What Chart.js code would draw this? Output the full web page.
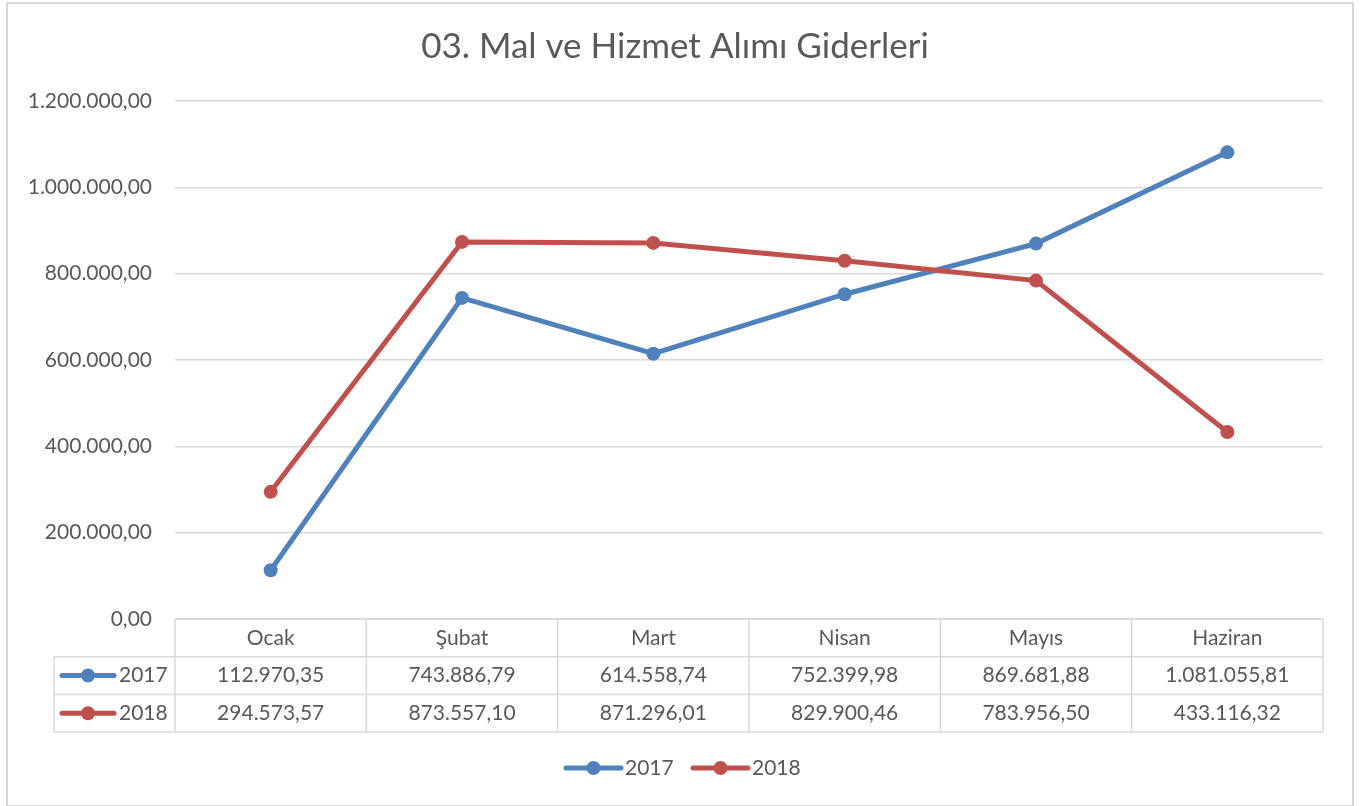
<!DOCTYPE html>
<html>
<head>
<meta charset="utf-8">
<script src="https://cdn.jsdelivr.net/npm/chart.js@4/dist/chart.umd.min.js"></script>
<style>
    html, body { margin: 0; padding: 0; background: #fff; }
    #wrap { position: relative; width: 1367px; height: 806px; }
    #frame {
        position: absolute; left: 6px; top: 2px; width: 1348px; height: 805px;
        box-sizing: border-box; border: 2px solid #d9d9d9; pointer-events: none;
    }
    canvas { position: absolute; left: 0; top: 0; }
</style>
</head>
<body>
<div id="wrap">
    <canvas id="chart" width="1367" height="806"></canvas>
    <div id="frame"></div>
</div>
<script>
const TITLE = '03. Mal ve Hizmet Alımı Giderleri';
const months = ['Ocak', 'Şubat', 'Mart', 'Nisan', 'Mayıs', 'Haziran'];
const seriesNames = ['2017', '2018'];
const values2017 = [112970.35, 743886.79, 614558.74, 752399.98, 869681.88, 1081055.81];
const values2018 = [294573.57, 873557.10, 871296.01, 829900.46, 783956.50, 433116.32];
const yTicks = [0, 200000, 400000, 600000, 800000, 1000000, 1200000];

const BLUE = '#4f81bd';
const RED = '#c0504d';
const TEXT = '#595959';
const GRID = '#d9d9d9';
const FONT = 'Lato, "Open Sans", sans-serif';

// Turkish number format: 1.234.567,89
function fmt(n) {
    const parts = n.toFixed(2).split('.');
    const intPart = parts[0].replace(/\B(?=(\d{3})+(?!\d))/g, '.');
    return intPart + ',' + parts[1];
}

// sample line + dot, like the legend keys
function drawKey(ctx, x1, x2, y, color) {
    ctx.save();
    ctx.strokeStyle = color;
    ctx.fillStyle = color;
    ctx.lineWidth = 5;
    ctx.lineCap = 'round';
    ctx.beginPath();
    ctx.moveTo(x1, y);
    ctx.lineTo(x2, y);
    ctx.stroke();
    ctx.beginPath();
    ctx.arc((x1 + x2) / 2, y, 7, 0, Math.PI * 2);
    ctx.fill();
    ctx.restore();
}

const dataTablePlugin = {
    id: 'dataTable',
    afterDraw(chart) {
        const ctx = chart.ctx;
        const xs = chart.scales.x;
        const area = chart.chartArea;
        const rowH = 37.7;
        const top = area.bottom;
        const labelLeft = 54;
        const colW = (area.right - area.left) / months.length;
        const rows = [values2017, values2018];
        const colors = [BLUE, RED];

        ctx.save();
        ctx.strokeStyle = GRID;
        ctx.lineWidth = 1.5;

        // horizontal lines
        ctx.beginPath();
        ctx.moveTo(area.left, top);
        ctx.lineTo(area.right, top);
        for (let r = 1; r <= rows.length + 1; r++) {
            const y = top + r * rowH;
            ctx.moveTo(labelLeft, y);
            ctx.lineTo(area.right, y);
        }
        // vertical lines
        for (let c = 0; c <= months.length; c++) {
            const x = area.left + c * colW;
            ctx.moveTo(x, top);
            ctx.lineTo(x, top + (rows.length + 1) * rowH);
        }
        ctx.moveTo(labelLeft, top + rowH);
        ctx.lineTo(labelLeft, top + (rows.length + 1) * rowH);
        ctx.stroke();

        ctx.fillStyle = TEXT;
        ctx.font = '21px ' + FONT;
        ctx.textAlign = 'center';
        ctx.textBaseline = 'middle';
        months.forEach((m, i) => {
            const cx = xs.getPixelForValue(i);
            ctx.fillText(m, cx, top + rowH / 2);
            rows.forEach((vals, r) => {
                ctx.fillText(fmt(vals[i]), cx, top + (r + 1.5) * rowH);
            });
        });

        rows.forEach((vals, r) => {
            const y = top + (r + 1.5) * rowH;
            drawKey(ctx, 62, 114, y, colors[r]);
            ctx.fillStyle = TEXT;
            ctx.textAlign = 'left';
            ctx.fillText(seriesNames[r], 119, y);
        });

        // bottom legend
        const ly = 768;
        const items = [[566, BLUE], [693, RED]];
        items.forEach(([x, color], r) => {
            drawKey(ctx, x, x + 55, ly, color);
            ctx.fillStyle = TEXT;
            ctx.textAlign = 'left';
            ctx.fillText(seriesNames[r], x + 59, ly);
        });
        ctx.restore();
    }
};

new Chart(document.getElementById('chart'), {
    type: 'line',
    data: {
        labels: months,
        datasets: [
            {
                label: seriesNames[0],
                data: values2017,
                borderColor: BLUE,
                backgroundColor: BLUE,
                borderWidth: 5,
                pointRadius: 7,
                pointBorderWidth: 0,
                tension: 0,
                order: 1
            },
            {
                label: seriesNames[1],
                data: values2018,
                borderColor: RED,
                backgroundColor: RED,
                borderWidth: 5,
                pointRadius: 7,
                pointBorderWidth: 0,
                tension: 0,
                order: 0
            }
        ]
    },
    options: {
        responsive: false,
        animation: false,
        layout: { padding: { left: 0, right: 17, top: 0, bottom: 74 } },
        scales: {
            x: {
                offset: true,
                grid: { display: false },
                border: { display: false },
                ticks: { display: false },
                afterFit(scale) { scale.height = 113; }
            },
            y: {
                min: 0,
                max: 1200000,
                afterBuildTicks(scale) {
                    scale.ticks = yTicks.map(v => ({ value: v }));
                },
                grid: { color: GRID, lineWidth: 1.5, drawTicks: false },
                border: { display: false },
                ticks: {
                    color: TEXT,
                    padding: 23,
                    font: { family: FONT, size: 21 },
                    callback: v => fmt(v)
                },
                afterFit(scale) { scale.width = 175; }
            },
            // empty right-hand spacer so the title centres like the original
            spacer: {
                type: 'linear',
                position: 'right',
                grid: { display: false },
                border: { display: false },
                ticks: { display: false },
                afterFit(scale) { scale.width = 27; }
            }
        },
        plugins: {
            legend: { display: false },
            tooltip: { enabled: false },
            title: {
                display: true,
                text: TITLE,
                color: TEXT,
                font: { family: FONT, size: 35, weight: 'normal' },
                padding: { top: 26, bottom: 33 }
            }
        }
    },
    plugins: [dataTablePlugin]
});
</script>
</body>
</html>
